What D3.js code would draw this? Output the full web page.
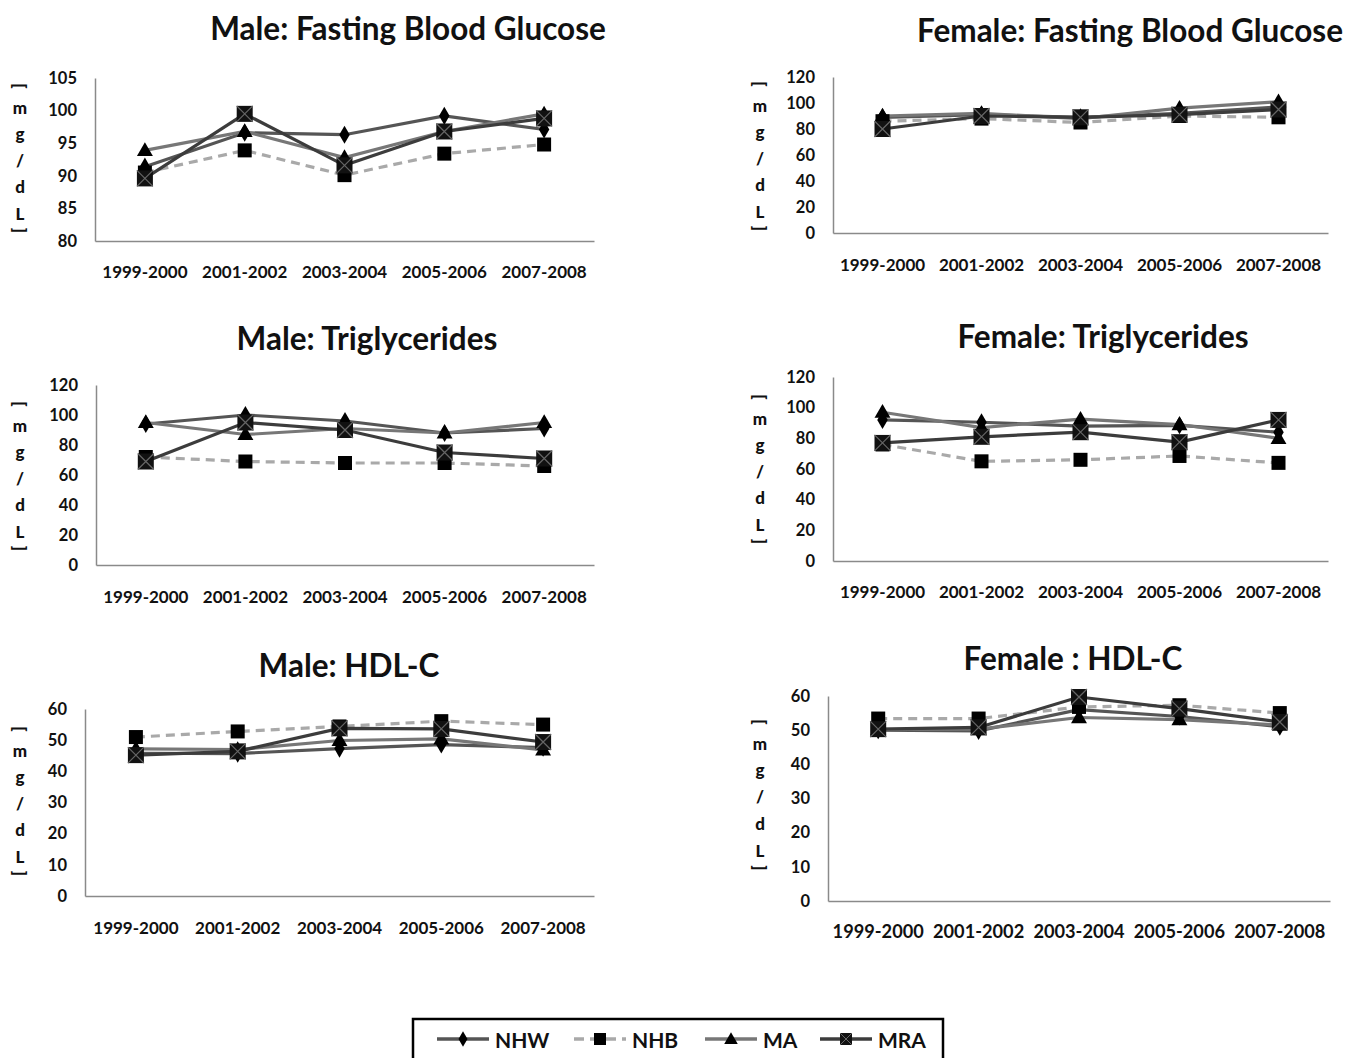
<!DOCTYPE html>
<html>
<head>
<meta charset="utf-8">
<script src="https://cdn.jsdelivr.net/npm/d3@7"></script>
<style>
  body { margin: 0; background: #fff; }
  svg { display: block; font-family: Lato, "Open Sans", sans-serif; }
</style>
</head>
<body>
<svg id="chart" width="1345" height="1058"></svg>
<script>
// ---------------- DATA ----------------
const categories = ["1999-2000", "2001-2002", "2003-2004", "2005-2006", "2007-2008"];
const seriesNames = ["NHW", "NHB", "MA", "MRA"];

// values per series, ordered NHW, NHB, MA, MRA
const maleFBG   = [[91.4, 96.6, 96.3, 99.2, 97.1],
                   [90.5, 93.9, 90.1, 93.4, 94.8],
                   [93.9, 96.8, 92.8, 96.8, 99.5],
                   [89.6, 99.5, 91.6, 96.8, 98.8]];
const femaleFBG = [[89, 91, 89, 92, 97],
                   [86, 88, 85, 90, 89],
                   [90, 92, 88, 96, 101],
                   [80, 90, 89, 91, 95]];
const maleTG    = [[94, 100, 96, 88, 91],
                   [72, 69, 68, 68, 66],
                   [95, 87, 91, 88, 95],
                   [69, 95, 90, 75, 71]];
const femaleTG  = [[92, 90.5, 88, 88.5, 84],
                   [76, 65, 66, 68.5, 64],
                   [97, 87, 92.5, 89, 80],
                   [77, 81, 84, 77.5, 92]];
const maleHDL   = [[45.8, 45.7, 47.3, 48.6, 47.6],
                   [51, 52.8, 54.4, 56.1, 55],
                   [47.2, 47, 49.9, 50.4, 46.9],
                   [45.2, 46.4, 53.8, 53.6, 49.4]];
const femaleHDL = [[50, 49.8, 56, 54, 51],
                   [53.4, 53.4, 56.8, 57.3, 55],
                   [50.2, 50.3, 53.7, 53.1, 51.5],
                   [50.3, 50.8, 59.7, 56.3, 52.4]];

const maleFBGTicks   = [80, 85, 90, 95, 100, 105];
const femaleFBGTicks = [0, 20, 40, 60, 80, 100, 120];
const maleTGTicks    = [0, 20, 40, 60, 80, 100, 120];
const femaleTGTicks  = [0, 20, 40, 60, 80, 100, 120];
const maleHDLTicks   = [0, 10, 20, 30, 40, 50, 60];
const femaleHDLTicks = [0, 10, 20, 30, 40, 50, 60];

const titles = ["Male: Fasting Blood Glucose", "Female: Fasting Blood Glucose",
                "Male: Triglycerides", "Female: Triglycerides",
                "Male: HDL-C", "Female : HDL-C"];
const yLabelChars = ["[", "m", "g", "/", "d", "L", "]"];

// ---------------- LAYOUT / STYLE ----------------
const panels = [
  { title: titles[0], data: maleFBG,   ticks: maleFBGTicks,   x0: 95,  x1: 594,  yTop: 78,  yBot: 241, titleX: 408,  titleY: 28,  xLabY: 271, xFs: 17,   lblX: 20,  lblTop: 86,  lblStep: 26.5 },
  { title: titles[1], data: femaleFBG, ticks: femaleFBGTicks, x0: 833, x1: 1328, yTop: 77,  yBot: 233, titleX: 1130, titleY: 30,  xLabY: 264, xFs: 17,   lblX: 760, lblTop: 84,  lblStep: 26.5 },
  { title: titles[2], data: maleTG,    ticks: maleTGTicks,    x0: 96,  x1: 594,  yTop: 385, yBot: 565, titleX: 367,  titleY: 338, xLabY: 596, xFs: 17,   lblX: 20,  lblTop: 404, lblStep: 26.5 },
  { title: titles[3], data: femaleTG,  ticks: femaleTGTicks,  x0: 833, x1: 1328, yTop: 377, yBot: 561, titleX: 1103, titleY: 336, xLabY: 591, xFs: 17,   lblX: 760, lblTop: 397, lblStep: 26.5 },
  { title: titles[4], data: maleHDL,   ticks: maleHDLTicks,   x0: 85,  x1: 594,  yTop: 709, yBot: 896, titleX: 349,  titleY: 665, xLabY: 927, xFs: 17,   lblX: 20,  lblTop: 729, lblStep: 26.5 },
  { title: titles[5], data: femaleHDL, ticks: femaleHDLTicks, x0: 828, x1: 1330, yTop: 696, yBot: 901, titleX: 1073, titleY: 658, xLabY: 931, xFs: 18.2, lblX: 760, lblTop: 722, lblStep: 26.8 }
];

const lineColors = ["#555555", "#a9a9a9", "#777777", "#3c3c3c"];
const dashes = [null, "9,6", null, null];

const svg = d3.select("#chart");

function drawMarker(g, i, x, y) {
  if (i === 0) {
    g.append("path").attr("d", d3.symbol(d3.symbolDiamond, 95)())
      .attr("transform", `translate(${x},${y})`).attr("fill", "#000");
  } else if (i === 1) {
    g.append("rect").attr("x", x - 7).attr("y", y - 7).attr("width", 14).attr("height", 14).attr("fill", "#000");
  } else if (i === 2) {
    g.append("path").attr("d", d3.symbol(d3.symbolTriangle, 110)())
      .attr("transform", `translate(${x},${y + 1})`).attr("fill", "#000");
  } else {
    const s = 8;
    g.append("rect").attr("x", x - s).attr("y", y - s).attr("width", 2 * s).attr("height", 2 * s).attr("fill", "#111");
    g.append("path").attr("d", `M${x - s},${y - s}L${x + s},${y + s}M${x + s},${y - s}L${x - s},${y + s}`)
      .attr("stroke", "#666").attr("stroke-width", 1.2);
  }
}

panels.forEach(p => {
  const g = svg.append("g");
  const x = d3.scaleBand().domain(categories).range([p.x0, p.x1]);
  const y = d3.scaleLinear().domain([p.ticks[0], p.ticks[p.ticks.length - 1]]).range([p.yBot, p.yTop]);

  // title
  g.append("text").attr("x", p.titleX).attr("y", p.titleY).attr("text-anchor", "middle")
    .attr("dominant-baseline", "central").attr("font-size", 31.5).attr("font-weight", "bold")
    .attr("fill", "#111").text(p.title);

  // axes
  const yAxis = d3.axisLeft(y).tickValues(p.ticks).tickSize(0).tickPadding(18);
  const ya = g.append("g").attr("transform", `translate(${p.x0},0)`).call(yAxis);
  ya.select(".domain").attr("stroke", "#8a8a8a").attr("stroke-width", 1.5);
  ya.selectAll("text").attr("font-size", 16.5).attr("font-weight", "bold").attr("fill", "#111")
    .attr("font-family", "Lato, sans-serif");

  const xAxis = d3.axisBottom(x).tickSize(0).tickPadding(0);
  const xa = g.append("g").attr("transform", `translate(0,${p.yBot})`).call(xAxis);
  xa.select(".domain").attr("stroke", "#8a8a8a").attr("stroke-width", 1.5);
  xa.selectAll("text").attr("font-size", p.xFs).attr("font-weight", "bold").attr("fill", "#111")
    .attr("font-family", "Lato, sans-serif").attr("dy", null)
    .attr("y", p.xLabY - p.yBot).attr("dominant-baseline", "central");

  // y label stacked characters
  yLabelChars.forEach((c, k) => {
    let cy;
    if (k === 0) cy = p.lblTop;
    else if (k === yLabelChars.length - 1) cy = p.lblTop + (k - 1) * p.lblStep + 12;
    else cy = p.lblTop + 21 + (k - 1) * p.lblStep;
    const t = g.append("text").attr("x", p.lblX).attr("y", cy).attr("text-anchor", "middle")
      .attr("dominant-baseline", "central").attr("font-size", 17).attr("font-weight", 900)
      .attr("fill", "#111").text(c);
    if (c === "[" || c === "]") t.attr("transform", `rotate(90,${p.lblX},${cy})`);
  });

  // lines
  const xc = d => x(d) + x.bandwidth() / 2;
  p.data.forEach((vals, i) => {
    const line = d3.line().x((v, j) => xc(categories[j])).y(v => y(v));
    g.append("path").datum(vals).attr("d", line).attr("fill", "none")
      .attr("stroke", lineColors[i]).attr("stroke-width", 3.2)
      .attr("stroke-dasharray", dashes[i]);
  });
  p.data.forEach((vals, i) => {
    vals.forEach((v, j) => drawMarker(g, i, xc(categories[j]), y(v)));
  });
});

// legend
const lg = svg.append("g");
lg.append("rect").attr("x", 413).attr("y", 1019).attr("width", 530).attr("height", 50)
  .attr("fill", "#fff").attr("stroke", "#000").attr("stroke-width", 2.5);
const legendX = [437, 574, 705, 820];
seriesNames.forEach((n, i) => {
  const lx = legendX[i], ly = 1039;
  lg.append("line").attr("x1", lx).attr("x2", lx + 52).attr("y1", ly).attr("y2", ly)
    .attr("stroke", lineColors[i]).attr("stroke-width", 3.5).attr("stroke-dasharray", i === 1 ? "10,6" : null);
  const mg = lg.append("g");
  if (i === 0) mg.append("path").attr("d", d3.symbol(d3.symbolDiamond, 70)()).attr("transform", `translate(${lx + 26},${ly})`).attr("fill", "#000");
  if (i === 1) mg.append("rect").attr("x", lx + 20).attr("y", ly - 6).attr("width", 12).attr("height", 12).attr("fill", "#000");
  if (i === 2) mg.append("path").attr("d", d3.symbol(d3.symbolTriangle, 80)()).attr("transform", `translate(${lx + 26},${ly + 1})`).attr("fill", "#000");
  if (i === 3) {
    const cx = lx + 26, s = 6;
    mg.append("rect").attr("x", cx - s).attr("y", ly - s).attr("width", 2 * s).attr("height", 2 * s).attr("fill", "#111");
    mg.append("path").attr("d", `M${cx - s},${ly - s}L${cx + s},${ly + s}M${cx + s},${ly - s}L${cx - s},${ly + s}`).attr("stroke", "#666").attr("stroke-width", 1);
  }
  lg.append("text").attr("x", lx + 58).attr("y", ly).attr("dominant-baseline", "central")
    .attr("font-size", 21).attr("font-weight", "bold").attr("fill", "#111").text(n);
});
</script>
</body>
</html>
